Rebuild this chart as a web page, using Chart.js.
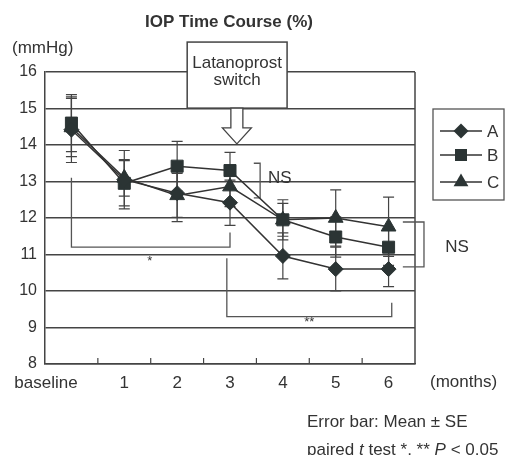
<!DOCTYPE html>
<html>
<head>
<meta charset="utf-8">
<script src="https://cdn.jsdelivr.net/npm/chart.js@4/dist/chart.umd.min.js"></script>
<style>
html,body{margin:0;padding:0;background:#fff;}
canvas{display:block;}
</style>
</head>
<body>
<canvas id="c" width="505" height="455"></canvas>
<script>
// ---- data ----
const categories = ['baseline', '1', '2', '3', '4', '5', '6'];
const seriesNames = ['A', 'B', 'C'];
const valuesA = [14.42, 13.05, 12.68, 12.42, 10.96, 10.60, 10.60];
const valuesB = [14.60, 12.95, 13.42, 13.30, 11.95, 11.48, 11.20];
const valuesC = [14.48, 13.10, 12.62, 12.86, 11.95, 12.00, 11.76];
const errA = [0.90, 0.80, 0.78, 0.62, 0.63, 0.60, 0.48];
const errB = [0.78, 0.62, 0.68, 0.50, 0.55, 0.55, 0.50];
const errC = [0.80, 0.50, 0.60, 0.55, 0.45, 0.77, 0.81];
const yTicks = [8, 9, 10, 11, 12, 13, 14, 15, 16];

const FONT = '"Liberation Sans", Arial, Helvetica, sans-serif';
const INK = '#333';
const MARK = '#2b3434';

const errorSets = [errA, errB, errC];

const annotPlugin = {
  id: 'annot',
  beforeDraw(chart) {
    const ctx = chart.ctx;
    ctx.save();
    ctx.fillStyle = '#fff';
    ctx.fillRect(0, 0, chart.width, chart.height);
    ctx.restore();
  },
  beforeDatasetsDraw(chart) {
    const ctx = chart.ctx;
    const xs = chart.scales.x, ys = chart.scales.y;
    const ca = chart.chartArea;
    const X = v => xs.getPixelForValue(v);
    const Y = v => ys.getPixelForValue(v);
    ctx.save();
    // right border
    ctx.strokeStyle = '#444';
    ctx.lineWidth = 1.5;
    ctx.beginPath();
    ctx.moveTo(ca.right, ca.top);
    ctx.lineTo(ca.right, ca.bottom);
    ctx.stroke();
    // inner ticks on x axis
    ctx.lineWidth = 1.2;
    for (let i = 0; i < categories.length - 1; i++) {
      const px = X(i + 0.5);
      ctx.beginPath();
      ctx.moveTo(px, ca.bottom);
      ctx.lineTo(px, ca.bottom - 6);
      ctx.stroke();
    }
    // brackets
    ctx.strokeStyle = '#555';
    ctx.lineWidth = 1.3;
    const poly = pts => {
      ctx.beginPath();
      pts.forEach((p, k) => k ? ctx.lineTo(X(p[0]), Y(p[1])) : ctx.moveTo(X(p[0]), Y(p[1])));
      ctx.stroke();
    };
    poly([[0, 13.1], [0, 11.2], [3, 11.2], [3, 11.6]]);
    poly([[2.94, 10.9], [2.94, 9.3], [6.06, 9.3], [6.06, 9.68]]);
    poly([[3.45, 13.5], [3.57, 13.5], [3.57, 12.55], [3.45, 12.55]]);
    poly([[6.27, 11.89], [6.67, 11.89], [6.67, 10.66], [6.27, 10.66]]);
    ctx.fillStyle = INK;
    ctx.font = '17px ' + FONT;
    ctx.textBaseline = 'middle';
    ctx.textAlign = 'left';
    ctx.fillText('NS', X(3.72), Y(13.1));
    ctx.fillText('NS', X(7.07), Y(11.2));
    ctx.textAlign = 'center';
    ctx.font = '13px ' + FONT;
    ctx.fillText('*', X(1.48), Y(10.8));
    ctx.fillText('**', X(4.5), Y(9.15));
    // error bars
    ctx.strokeStyle = '#444';
    ctx.lineWidth = 1.2;
    chart.data.datasets.forEach((ds, di) => {
      const err = errorSets[di];
      ds.data.forEach((v, i) => {
        const px = X(i), top = Y(v + err[i]), bot = Y(v - err[i]);
        ctx.beginPath();
        ctx.moveTo(px, top); ctx.lineTo(px, bot);
        ctx.moveTo(px - 5.5, top); ctx.lineTo(px + 5.5, top);
        ctx.moveTo(px - 5.5, bot); ctx.lineTo(px + 5.5, bot);
        ctx.stroke();
      });
    });
    ctx.restore();
  },
  afterDatasetsDraw(chart) {
    const ctx = chart.ctx;
    const xs = chart.scales.x, ys = chart.scales.y;
    const X = v => xs.getPixelForValue(v);
    const Y = v => ys.getPixelForValue(v);
    ctx.save();
    // Latanoprost box
    const bx0 = X(2.19), bx1 = X(4.08), by0 = Y(16.82), by1 = Y(15.01);
    ctx.fillStyle = '#fff';
    ctx.strokeStyle = '#444';
    ctx.lineWidth = 1.5;
    ctx.fillRect(bx0, by0, bx1 - bx0, by1 - by0);
    ctx.strokeRect(bx0, by0, bx1 - bx0, by1 - by0);
    ctx.fillStyle = INK;
    ctx.font = '17px ' + FONT;
    ctx.textAlign = 'center';
    ctx.textBaseline = 'middle';
    const cx = (bx0 + bx1) / 2;
    ctx.fillText('Latanoprost', cx, Y(16.25));
    ctx.fillText('switch', cx, Y(15.78));
    // hollow arrow
    const ax = X(3.13);
    const headTop = Y(14.47), tip = Y(14.03);
    ctx.beginPath();
    ctx.moveTo(ax - 6, by1);
    ctx.lineTo(ax - 6, headTop);
    ctx.lineTo(ax - 14.5, headTop);
    ctx.lineTo(ax, tip);
    ctx.lineTo(ax + 14.5, headTop);
    ctx.lineTo(ax + 6, headTop);
    ctx.lineTo(ax + 6, by1);
    ctx.closePath();
    ctx.fillStyle = '#fff';
    ctx.fill();
    ctx.strokeStyle = '#444';
    ctx.lineWidth = 1.3;
    ctx.stroke();
    ctx.restore();
  },
  afterDraw(chart) {
    const ctx = chart.ctx;
    ctx.save();
    ctx.fillStyle = INK;
    ctx.textBaseline = 'middle';
    // title
    ctx.font = 'bold 17px ' + FONT;
    ctx.textAlign = 'center';
    ctx.fillText('IOP Time Course (%)', 229, 22);
    // axis units
    ctx.font = '17px ' + FONT;
    ctx.textAlign = 'left';
    ctx.fillText('(mmHg)', 12, 48);
    ctx.fillText('(months)', 430, 382);
    // notes
    ctx.fillText('Error bar: Mean \u00b1 SE', 307, 422);
    let x = 307;
    const parts = [['paired ', false], ['t', true], [' test *, ** ', false], ['P', true], [' < 0.05', false]];
    parts.forEach(([s, it]) => {
      ctx.font = (it ? 'italic ' : '') + '17px ' + FONT;
      ctx.fillText(s, x, 450);
      x += ctx.measureText(s).width;
    });
    // legend
    const lx = 433, ly = 109, lw = 71, lh = 91;
    ctx.strokeStyle = '#555';
    ctx.lineWidth = 1.3;
    ctx.strokeRect(lx, ly, lw, lh);
    const rows = [131, 155, 182];
    const shapes = ['diamond', 'square', 'triangle'];
    rows.forEach((ry, i) => {
      ctx.strokeStyle = INK;
      ctx.lineWidth = 1.5;
      ctx.beginPath();
      ctx.moveTo(440, ry); ctx.lineTo(482, ry);
      ctx.stroke();
      ctx.fillStyle = MARK;
      ctx.beginPath();
      const mx = 461;
      if (shapes[i] === 'diamond') {
        ctx.moveTo(mx - 7.5, ry); ctx.lineTo(mx, ry - 7.5); ctx.lineTo(mx + 7.5, ry); ctx.lineTo(mx, ry + 7.5);
      } else if (shapes[i] === 'square') {
        ctx.rect(mx - 6, ry - 6, 12, 12);
      } else {
        ctx.moveTo(mx, ry - 8.5); ctx.lineTo(mx + 7.4, ry + 4.25); ctx.lineTo(mx - 7.4, ry + 4.25);
      }
      ctx.closePath();
      ctx.fill();
      ctx.fillStyle = INK;
      ctx.font = '17px ' + FONT;
      ctx.textAlign = 'left';
      ctx.fillText(seriesNames[i], 487, ry + 1);
    });
    ctx.restore();
  }
};

const mkDs = (label, data, style, radius) => ({
  label, data,
  borderColor: INK, borderWidth: 1.5,
  backgroundColor: MARK,
  pointStyle: style, pointRadius: radius, pointHoverRadius: radius,
  pointBackgroundColor: MARK, pointBorderColor: MARK, pointBorderWidth: 1,
  tension: 0, fill: false
});

new Chart(document.getElementById('c'), {
  type: 'line',
  data: {
    labels: categories,
    datasets: [
      mkDs(seriesNames[0], valuesA, 'rectRot', 7.5),
      mkDs(seriesNames[1], valuesB, 'rect', 8.5),
      mkDs(seriesNames[2], valuesC, 'triangle', 8.5)
    ]
  },
  options: {
    responsive: false,
    devicePixelRatio: 1,
    animation: false,
    layout: { padding: { top: 72, right: 90, left: 0, bottom: 0 } },
    plugins: { legend: { display: false }, title: { display: false }, tooltip: { enabled: false } },
    scales: {
      x: {
        type: 'category',
        offset: true,
        grid: { display: false, drawTicks: false },
        border: { display: true, color: '#444', width: 1.5 },
        ticks: {
          font: { size: 17, family: FONT }, color: INK, padding: 9, maxRotation: 0, autoSkip: false,
          callback: (v, i) => i === 0 ? categories[0] + '\u2002\u2002\u2002\u2002\u2002\u2002' : categories[i]
        },
        afterFit: s => { s.height = 91; }
      },
      y: {
        min: yTicks[0], max: yTicks[yTicks.length - 1],
        afterBuildTicks: s => { s.ticks = yTicks.map(v => ({ value: v })); },
        grid: { color: '#444', lineWidth: 1.5, drawTicks: false },
        border: { display: true, color: '#444', width: 1.5 },
        ticks: { font: { size: 16, family: FONT }, color: INK, padding: 8 },
        afterFit: s => { s.width = 45; }
      }
    }
  },
  plugins: [annotPlugin]
});
</script>
</body>
</html>
